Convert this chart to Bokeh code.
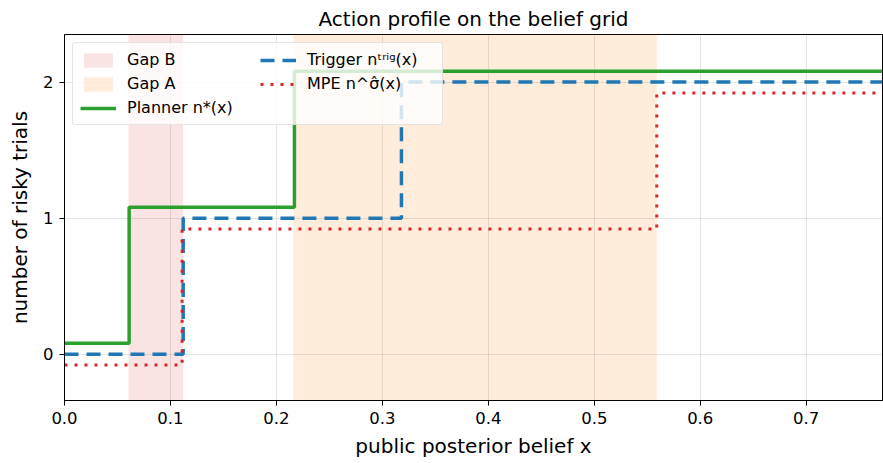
from bokeh.plotting import figure
from bokeh.models import Range1d, FixedTicker, Legend, LegendItem, CustomJSTickFormatter
from bokeh.embed import file_html
from bokeh.resources import INLINE

# ---- data ----
x_max = 0.772
planner_x = [0.0, 0.061, 0.217, x_max]
planner_n = [0, 1, 2, 2]
trigger_x = [0.0, 0.112, 0.318, x_max]
trigger_n = [0, 1, 2, 2]
mpe_x = [0.0, 0.111, 0.559, x_max]
mpe_n = [0, 1, 2, 2]
gap_b = [0.0604, 0.112]
gap_a = [0.216, 0.559]
x_ticks = [0.0, 0.1, 0.2, 0.3, 0.4, 0.5, 0.6, 0.7]
y_ticks = [0, 1, 2]
offsets = {"planner": 0.08, "trigger": 0.0, "mpe": -0.08}

FONT = "DejaVu Sans"

p = figure(width=883, height=463, output_backend="svg", toolbar_location=None,
           x_range=Range1d(0, x_max), y_range=Range1d(-0.34, 2.35),
           min_border_left=64, min_border_right=1, min_border_top=34, min_border_bottom=63)
p.title.text = "Action profile on the belief grid"
p.title.align = "center"
p.title.text_font = FONT
p.title.text_font_size = "20px"
p.title.text_font_style = "normal"
p.title.text_color = "black"
p.title.offset = 4
p.title.standoff = 8

p.outline_line_color = "black"
p.outline_line_width = 1
p.outline_line_alpha = 1

for ax in (p.xaxis, p.yaxis):
    ax.axis_line_color = "black"
    ax.major_tick_line_color = "black"
    ax.minor_tick_line_color = None
    ax.major_tick_out = 5
    ax.major_tick_in = 0
    ax.major_label_text_font = FONT
    ax.major_label_text_font_size = "16.5px"
    ax.major_label_text_color = "black"
    ax.axis_label_text_font = FONT
    ax.axis_label_text_font_size = "20px"
    ax.axis_label_text_font_style = "normal"
    ax.axis_label_text_color = "black"

p.xaxis.ticker = FixedTicker(ticks=x_ticks)
p.yaxis.ticker = FixedTicker(ticks=y_ticks)
p.xaxis.formatter = CustomJSTickFormatter(code="return tick.toFixed(1);")
p.xaxis.axis_label = "public posterior belief x"
p.yaxis.axis_label = "number of risky trials"
p.xaxis.axis_label_standoff = 7
p.yaxis.axis_label_standoff = 8
p.xaxis.major_label_standoff = 6
p.yaxis.major_label_standoff = 6

p.xgrid.grid_line_color = "#b0b0b0"
p.ygrid.grid_line_color = "#b0b0b0"
p.xgrid.grid_line_alpha = 0.35
p.ygrid.grid_line_alpha = 0.35
p.xgrid.ticker = FixedTicker(ticks=x_ticks)
p.ygrid.ticker = FixedTicker(ticks=y_ticks)

# bands
rb = p.quad(left=[gap_b[0]], right=[gap_b[1]], bottom=[-10], top=[10],
            fill_color="#d62728", fill_alpha=0.13, line_color=None)
ra = p.quad(left=[gap_a[0]], right=[gap_a[1]], bottom=[-10], top=[10],
            fill_color="#ff7f0e", fill_alpha=0.15, line_color=None)

def shifted(vals, off):
    return [v + off for v in vals]

rp = p.step(planner_x, shifted(planner_n, offsets["planner"]), mode="after",
            line_color="#2ca02c", line_width=3.5)
rt = p.step(trigger_x, shifted(trigger_n, offsets["trigger"]), mode="after",
            line_color="#1f77b4", line_width=3.5, line_dash="14 8")
rm = p.step(mpe_x, shifted(mpe_n, offsets["mpe"]), mode="after",
            line_color="#d62728", line_width=3, line_dash="3 7")

legend = Legend(items=[
    LegendItem(label="Gap B", renderers=[rb]),
    LegendItem(label="Gap A", renderers=[ra]),
    LegendItem(label="Planner n*(x)", renderers=[rp]),
    LegendItem(label="Trigger nᵗʳⁱᵍ(x)", renderers=[rt]),
    LegendItem(label="MPE n^σ̂(x)", renderers=[rm]),
], location="top_left", nrows=3)
legend.label_text_font = FONT
legend.label_text_font_size = "16px"
legend.label_text_color = "black"
legend.glyph_width = 36
legend.glyph_height = 18
legend.label_standoff = 11
legend.label_height = 18
legend.label_width = 128
legend.spacing = 5
legend.padding = 7
legend.margin = 8
legend.border_line_color = "#cccccc"
legend.border_line_width = 1
legend.border_radius = 3
legend.background_fill_alpha = 0.8
p.add_layout(legend)

open("out.html", "w").write(file_html(p, INLINE))
